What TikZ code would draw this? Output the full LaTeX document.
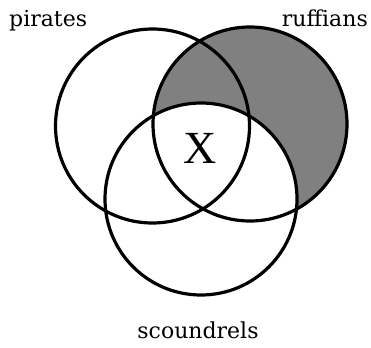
\documentclass[tikz,border=0pt]{standalone}
\usepackage{fontspec}
\setmainfont{DejaVu Serif}
\newfontfamily\xfont{Liberation Serif}
\begin{document}
\begin{tikzpicture}[x=1pt,y=-1pt,
  setline/.style={line width=3.2pt},
  setcircle/.style={circle,inner sep=0pt,minimum size=194pt,setline,draw},
  lab/.style={font=\fontsize{22}{24}\selectfont,inner sep=0pt}]
\useasboundingbox (0,0) rectangle (371,347);
\fill[black!50] (250,124) circle (97);
\fill[white] (201,199) circle (96);
\node[setcircle] (pirates) at (152.5,126) {};
\node[setcircle] (ruffians) at (250,124) {};
\node[setcircle,minimum size=192pt] (scoundrels) at (201,199) {};
\node[lab,anchor=base west] (lp) at (9,27) {pirates};
\node[lab,anchor=base east] (lr) at (368,27) {ruffians};
\node[lab,anchor=base] (ls) at (198,338) {scoundrels};
\node[font=\xfont\fontsize{46}{48}\selectfont,inner sep=0pt] (x) at (200,148) {X};
\end{tikzpicture}
\end{document}
